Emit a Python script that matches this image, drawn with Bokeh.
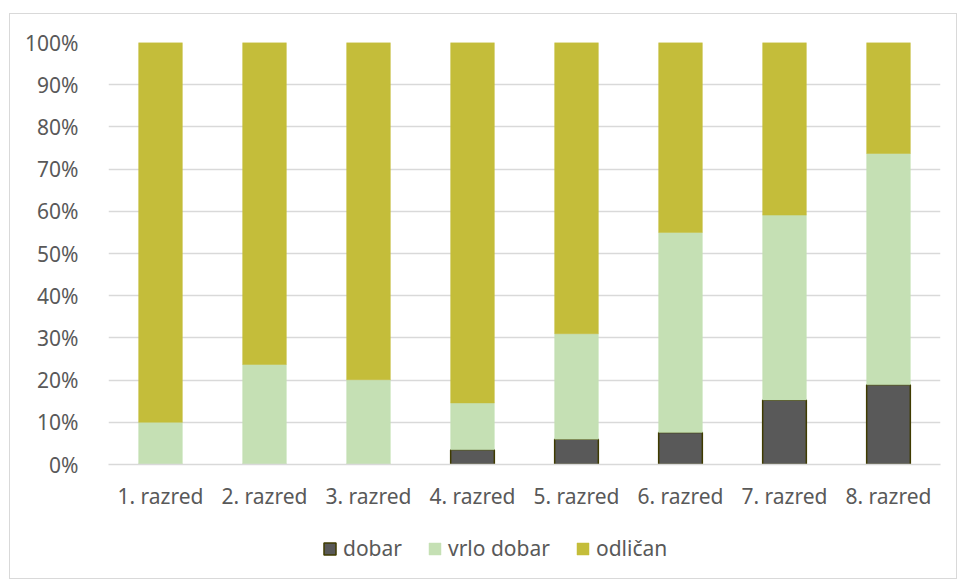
from bokeh.plotting import figure
from bokeh.layouts import column
from bokeh.models import ColumnDataSource, Legend, LegendItem, NumeralTickFormatter, FixedTicker
from bokeh.embed import file_html
from bokeh.resources import INLINE

categories = ["1. razred", "2. razred", "3. razred", "4. razred", "5. razred", "6. razred", "7. razred", "8. razred"]
dobar = [0.0, 0.0, 0.0, 0.035, 0.060, 0.076, 0.153, 0.189]
vrlo_dobar = [0.100, 0.237, 0.201, 0.111, 0.250, 0.474, 0.438, 0.548]
odlican = [0.900, 0.763, 0.799, 0.854, 0.690, 0.450, 0.409, 0.263]
series = ["dobar", "vrlo dobar", "odličan"]
colors = ["#595959", "#c5e0b4", "#c4bd3a"]
outlines = ["#3f3b00", "#c5e0b4", "#c4bd3a"]
y_ticks = [0, 0.1, 0.2, 0.3, 0.4, 0.5, 0.6, 0.7, 0.8, 0.9, 1.0]

src = ColumnDataSource(dict(cat=categories, dobar=dobar, vrlo=vrlo_dobar, odl=odlican))

FONT = "Noto Sans"
FS = "21px"
TXT = "#595959"

p = figure(x_range=categories, y_range=(0, 1.0), width=946, height=506,
           output_backend="svg", toolbar_location=None,
           min_border_left=98, min_border_right=16, min_border_top=28, min_border_bottom=56)

r = p.vbar_stack(["dobar", "vrlo", "odl"], x="cat", width=0.42, source=src,
                 fill_color=colors, line_color=outlines, line_width=[1.5, 0.5, 0.5])

p.outline_line_color = None
p.xgrid.grid_line_color = None
p.ygrid.grid_line_color = "#d9d9d9"
p.ygrid.grid_line_width = 1.3
p.yaxis.ticker = FixedTicker(ticks=y_ticks)
p.yaxis.formatter = NumeralTickFormatter(format="0%")
for ax in (p.xaxis[0], p.yaxis[0]):
    ax.axis_line_color = None
    ax.major_tick_line_color = None
    ax.minor_tick_line_color = None
    ax.major_label_text_font = FONT
    ax.major_label_text_font_size = FS
    ax.major_label_text_color = TXT
p.xaxis.axis_line_color = "#d9d9d9"
p.xaxis.axis_line_width = 1.3
p.xaxis.major_label_standoff = 11
p.yaxis.major_label_standoff = 24

# legend row: swatch renderers reuse the stacked source but are hidden
p2 = figure(width=946, height=58, x_range=categories, y_range=(-101, -100),
            x_axis_type=None, y_axis_type=None, output_backend="svg", toolbar_location=None,
            min_border=0)
p2.outline_line_color = None
p2.grid.visible = False
swatches = p2.vbar_stack(["dobar", "vrlo", "odl"], x="cat", width=0.42, source=src,
                         fill_color=colors, line_color=outlines, line_width=[1.5, 0.5, 0.5])
for s in swatches:
    s.visible = False
legend = Legend(items=[LegendItem(label=s, renderers=[d]) for s, d in zip(series, swatches)],
                orientation="horizontal", location=(214, 16),
                label_text_font=FONT, label_text_font_size=FS, label_text_color=TXT,
                glyph_width=15, glyph_height=15, label_standoff=6, spacing=25,
                inactive_fill_alpha=0,
                border_line_color=None, background_fill_alpha=0, margin=0, padding=0)
p2.add_layout(legend, "center")

layout = column(p, p2, spacing=0,
                styles={"border": "1px solid #d9d9d9", "margin-left": "9px", "margin-top": "13px"})

open("out.html", "w").write(file_html(layout, INLINE))
